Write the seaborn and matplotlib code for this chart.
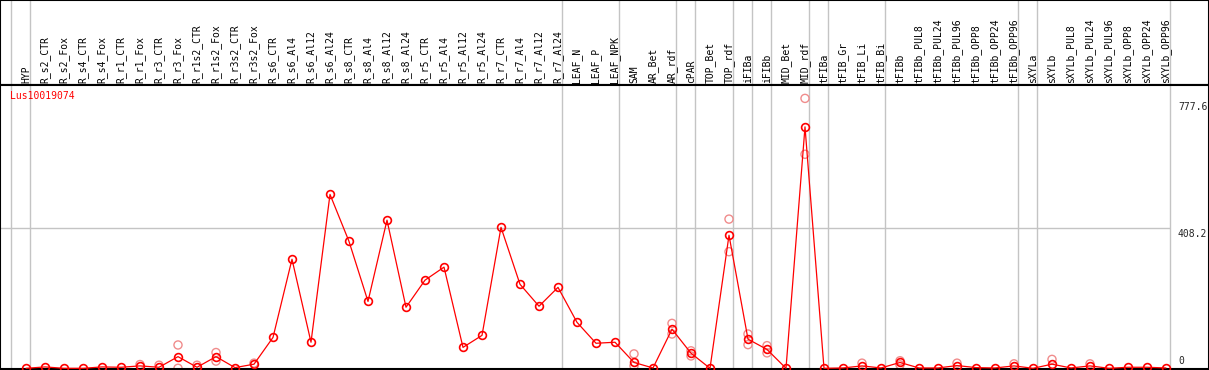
import matplotlib
matplotlib.use("Agg")
import matplotlib.pyplot as plt
import seaborn as sns
import pandas as pd

samples = ["HYP", "R_s2_CTR", "R_s2_Fox", "R_s4_CTR", "R_s4_Fox", "R_r1_CTR", "R_r1_Fox",
           "R_r3_CTR", "R_r3_Fox", "R_r1s2_CTR", "R_r1s2_Fox", "R_r3s2_CTR", "R_r3s2_Fox",
           "R_s6_CTR", "R_s6_Al4", "R_s6_Al12", "R_s6_Al24", "R_s8_CTR", "R_s8_Al4",
           "R_s8_Al12", "R_s8_Al24", "R_r5_CTR", "R_r5_Al4", "R_r5_Al12", "R_r5_Al24",
           "R_r7_CTR", "R_r7_Al4", "R_r7_Al12", "R_r7_Al24", "LEAF_N", "LEAF_P", "LEAF_NPK",
           "SAM", "AR_Bet", "AR_rdf", "cPAR", "TOP_Bet", "TOP_rdf", "iFIBa", "iFIBb",
           "MID_Bet", "MID_rdf", "tFIBa", "tFIB_Gr", "tFIB_Li", "tFIB_Bi", "tFIBb",
           "tFIBb_PUL8", "tFIBb_PUL24", "tFIBb_PUL96", "tFIBb_OPP8", "tFIBb_OPP24",
           "tFIBb_OPP96", "sXYLa", "sXYLb", "sXYLb_PUL8", "sXYLb_PUL24", "sXYLb_PUL96",
           "sXYLb_OPP8", "sXYLb_OPP24", "sXYLb_OPP96"]

mean_expr = [0, 4, 0, 0, 4, 3, 7, 3, 34, 3, 34, 2, 12, 90, 318, 76, 507, 370, 195, 432,
             178, 257, 295, 61, 96, 411, 245, 181, 236, 134, 73, 76,
             17, 1, 114, 44, 0, 388, 85, 55, 0, 704,
             0, 1, 7, 1, 17, 1, 1, 8, 2, 1, 7,
             0, 12, 1, 7, 0, 3, 3, 1]

rep_idx = [6, 7, 8, 8, 9, 10, 10, 12, 32, 32, 34, 34, 35, 35, 37, 37, 38, 38, 39, 39,
           41, 41, 44, 46, 46, 49, 52, 54, 56]
rep_val = [11, 9, 68, 0, 9, 46, 21, 15, 42, 7, 131, 100, 51, 36, 435, 340, 100, 69, 66, 45,
           787, 624, 15, 22, 10, 15, 13, 26, 13]

# last sample index of each group (vertical separators)
group_ends = [-1, 0, 28, 31, 34, 35, 37, 38, 39, 41, 42, 45, 52, 53, 60]
y_ticks = [0, 408.2, 777.6]
gene = "Lus10019074"

sns.set_style("white")
plt.rcParams["font.family"] = ["DejaVu Sans Mono", "DejaVu Sans"]

W, H = 1209, 370
fig = plt.figure(figsize=(W / 100, H / 100), dpi=100)

top_px = 85
bot_px = 368.5
ax_lab = fig.add_axes([0, 1 - top_px / H, 1, top_px / H])
ax = fig.add_axes([0, 1 - bot_px / H, 1, (bot_px - top_px) / H])

# x scale: first sample at 26 px, 19 px apart
step = 19.0
x0 = 26.0
xlim = (-x0 / step, (W - x0) / step)
ppu = 140.0 / 408.2
ylo = -(bot_px - 368.3) / ppu
yhi = ylo + (bot_px - top_px) / ppu

grid_col = "#c4c4c4"
for a in (ax_lab, ax):
    a.set_xlim(*xlim)
    a.set_xticks([])
    a.set_yticks([])
    for s in a.spines.values():
        s.set_color("black")
        s.set_linewidth(1.5)
    for g in group_ends:
        a.axvline(g + 4 / step, color=grid_col, lw=1.0, zorder=0)

ax.set_ylim(ylo, yhi)
ax.hlines(y_ticks[1], xlim[0], group_ends[-1] + 4 / step, color=grid_col, lw=1.0, zorder=0)

ax_lab.set_ylim(0, 1)
for i, name in enumerate(samples):
    ax_lab.text(i, 2 / top_px, name, rotation=90, ha="center", va="bottom",
                fontsize=7, color="black")

df = pd.DataFrame({"idx": range(len(samples)), "val": mean_expr})
reps = pd.DataFrame({"idx": rep_idx, "val": rep_val})

sns.scatterplot(data=reps, x="idx", y="val", ax=ax, marker="o", s=34,
                facecolors="none", edgecolor="#f08c8c", linewidth=1.0, zorder=2)
sns.lineplot(data=df, x="idx", y="val", ax=ax, color="red", lw=0.9,
             marker="o", markersize=5.6, mfc="none", mec="red", mew=1.2, zorder=3)
ax.set_xlabel("")
ax.set_ylabel("")
ax.set_xlim(*xlim)
ax.set_ylim(ylo, yhi)

ax.text(10 / W, 1 - 6 / (bot_px - top_px), gene, transform=ax.transAxes, color="red",
        fontsize=7, ha="left", va="top")

lab_x = len(samples) - 1 + 0.63
ax.text(lab_x, y_ticks[2] - 2, "777.6", fontsize=7, ha="left", va="top")
ax.text(lab_x, y_ticks[1] - 2, "408.2", fontsize=7, ha="left", va="top")
ax.text(lab_x, y_ticks[0] + 8, "0", fontsize=7, ha="left", va="bottom")

fig.savefig("out.png", dpi=100)
